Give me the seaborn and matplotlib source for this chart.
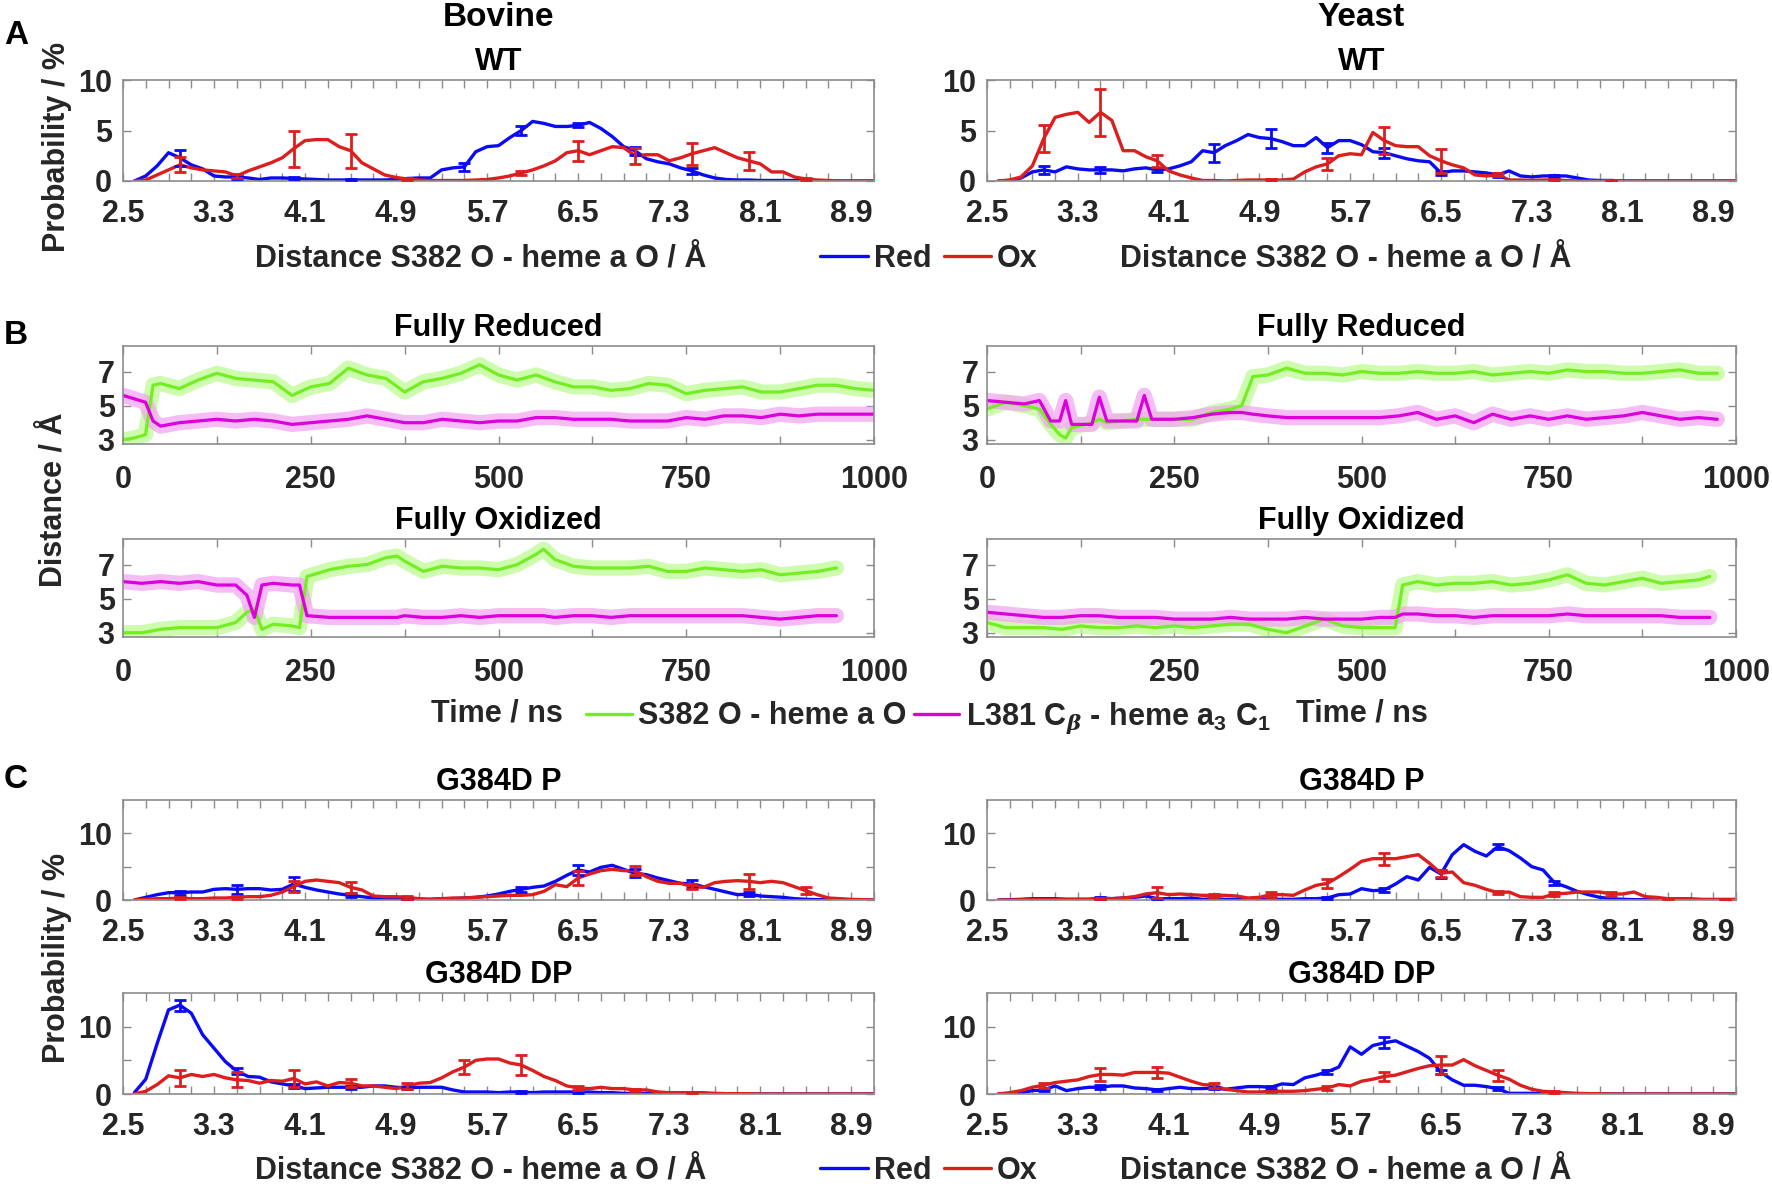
import matplotlib
matplotlib.use("Agg")
import matplotlib.pyplot as plt
import numpy as np
import pandas as pd
import seaborn as sns
from matplotlib.lines import Line2D

# ---------------- data ----------------
dist = [2.6, 2.7, 2.8, 2.9, 3.0, 3.1, 3.2, 3.3, 3.4, 3.5,
        3.6, 3.7, 3.8, 3.9, 4.0, 4.1, 4.2, 4.3, 4.4, 4.5,
        4.6, 4.7, 4.8, 4.9, 5.0, 5.1, 5.2, 5.3, 5.4, 5.5,
        5.6, 5.7, 5.8, 5.9, 6.0, 6.1, 6.2, 6.3, 6.4, 6.5,
        6.6, 6.7, 6.8, 6.9, 7.0, 7.1, 7.2, 7.3, 7.4, 7.5,
        7.6, 7.7, 7.8, 7.9, 8.0, 8.1, 8.2, 8.3, 8.4, 8.5,
        8.6, 8.7, 8.8, 8.9, 9.0, 9.1]
dist_tick_labels = ['2.5', '3.3', '4.1', '4.9', '5.7', '6.5', '7.3', '8.1', '8.9']

# Panel A, Bovine WT
bov_wt_red = [0.0, 0.5, 1.5, 2.8, 2.3, 1.6, 1.2, 0.5, 0.4, 0.4,
              0.3, 0.15, 0.3, 0.3, 0.25, 0.2, 0.15, 0.1, 0.1, 0.1,
              0.1, 0.1, 0.1, 0.15, 0.25, 0.3, 0.3, 1.1, 1.3, 1.4,
              2.9, 3.4, 3.5, 4.3, 5.0, 5.9, 5.7, 5.4, 5.4, 5.5,
              5.8, 5.2, 4.4, 3.4, 3.0, 2.2, 1.9, 1.7, 1.3, 1.0,
              0.6, 0.3, 0.15, 0.1, 0.1, 0.05, 0.05, 0.05, 0.05, 0.05,
              0.0, 0.0, 0.0, 0.0, 0.0, 0.0]
bov_wt_ox = [0.0, 0.1, 0.6, 1.1, 1.6, 1.3, 1.1, 1.0, 0.9, 0.5,
             1.0, 1.4, 1.8, 2.3, 3.2, 4.0, 4.1, 4.1, 3.4, 3.0,
             1.8, 1.2, 0.6, 0.35, 0.2, 0.1, 0.05, 0.05, 0.05, 0.05,
             0.1, 0.15, 0.3, 0.5, 0.8, 1.1, 1.5, 2.0, 2.8, 3.0,
             2.6, 3.0, 3.4, 3.3, 2.5, 2.6, 2.6, 2.0, 2.3, 2.7,
             3.0, 3.3, 2.8, 2.3, 2.0, 1.7, 0.9, 0.9, 0.4, 0.2,
             0.1, 0.05, 0.0, 0.0, 0.0, 0.0]
bov_wt_red_err = {3.0: 0.8, 3.5: 0.2, 4.0: 0.1, 4.5: 0.05, 5.5: 0.4, 6.0: 0.4, 6.5: 0.2, 7.0: 0.4, 7.5: 0.3}
bov_wt_ox_err = {3.0: 0.75, 3.5: 0.2, 4.0: 1.8, 4.5: 1.7, 5.0: 0.1, 6.0: 0.2, 6.5: 1.0, 7.0: 0.8, 7.5: 1.1, 8.0: 0.9, 8.5: 0.1}

# Panel A, Yeast WT
yst_wt_red = [0.0, 0.05, 0.3, 0.9, 1.1, 0.9, 1.4, 1.2, 1.1, 1.1,
              1.1, 1.0, 1.2, 1.3, 1.1, 1.2, 1.5, 1.9, 3.0, 2.8,
              3.5, 4.0, 4.6, 4.3, 4.2, 3.9, 3.5, 3.5, 4.3, 3.3,
              4.0, 4.0, 3.6, 2.9, 2.8, 2.5, 2.2, 2.0, 1.9, 0.8,
              1.0, 1.0, 0.9, 0.8, 0.6, 1.0, 0.5, 0.4, 0.5, 0.5,
              0.5, 0.3, 0.1, 0.05, 0.05, 0.0, 0.0, 0.0, 0.0, 0.0,
              0.0, 0.0, 0.0, 0.0, 0.0, 0.0]
yst_wt_ox = [0.0, 0.1, 0.4, 1.5, 4.2, 6.3, 6.6, 6.8, 5.8, 6.8,
             6.0, 3.0, 3.0, 2.4, 2.0, 1.0, 0.6, 0.3, 0.05, 0.05,
             0.0, 0.05, 0.1, 0.1, 0.1, 0.1, 0.2, 0.9, 1.4, 1.7,
             2.5, 2.7, 2.6, 4.8, 4.0, 3.5, 3.4, 3.4, 2.5, 2.0,
             1.6, 1.3, 0.6, 0.5, 0.6, 0.1, 0.1, 0.05, 0.1, 0.1,
             0.05, 0.0, 0.0, 0.0, 0.05, 0.0, 0.0, 0.0, 0.0, 0.0,
             0.0, 0.0, 0.0, 0.0, 0.0, 0.0]
yst_wt_red_err = {3.0: 0.4, 3.5: 0.3, 4.0: 0.2, 4.5: 0.9, 5.0: 0.9, 5.5: 0.5, 6.0: 0.5, 6.5: 0.2, 7.0: 0.2, 7.5: 0.1}
yst_wt_ox_err = {3.0: 1.3, 3.5: 2.3, 4.0: 0.6, 5.0: 0.1, 5.5: 0.6, 6.0: 1.3, 6.5: 1.2, 7.0: 0.15, 7.5: 0.1, 8.0: 0.05}

# Panel C, Bovine G384D P / DP
bov_p_red = [0.0, 0.4, 0.8, 1.1, 1.1, 1.2, 1.2, 1.6, 1.7, 1.6,
             1.7, 1.7, 1.5, 1.6, 2.4, 1.9, 1.5, 1.2, 0.9, 0.7,
             0.5, 0.3, 0.2, 0.2, 0.2, 0.1, 0.1, 0.2, 0.2, 0.3,
             0.4, 0.6, 0.9, 1.3, 1.6, 1.9, 2.1, 2.8, 3.7, 4.5,
             4.2, 4.9, 5.2, 4.6, 4.0, 3.8, 3.3, 2.9, 2.5, 2.4,
             2.0, 1.6, 1.2, 0.8, 0.9, 0.6, 0.5, 0.4, 0.2, 0.1,
             0.05, 0.05, 0.0, 0.0, 0.0, 0.0]
bov_p_ox = [0.0, 0.1, 0.2, 0.2, 0.3, 0.2, 0.2, 0.3, 0.3, 0.4,
            0.5, 0.5, 0.7, 1.2, 2.0, 2.8, 3.0, 2.8, 2.6, 1.9,
            1.5, 0.6, 0.5, 0.5, 0.4, 0.2, 0.1, 0.2, 0.3, 0.3,
            0.4, 0.5, 0.6, 0.7, 0.7, 0.8, 1.3, 2.3, 2.0, 3.3,
            3.9, 4.4, 4.6, 4.4, 4.4, 3.5, 2.8, 2.5, 2.5, 2.0,
            1.9, 2.6, 2.8, 2.9, 2.8, 2.6, 2.8, 2.6, 2.0, 1.4,
            0.8, 0.3, 0.2, 0.1, 0.05, 0.0]
bov_p_red_err = {3.0: 0.3, 3.5: 0.7, 4.0: 1.1, 4.5: 0.3, 5.0: 0.1, 6.0: 0.4, 6.5: 0.8, 7.0: 0.6, 7.5: 0.6, 8.0: 0.3}
bov_p_ox_err = {3.0: 0.1, 3.5: 0.2, 4.0: 0.8, 4.5: 0.8, 5.0: 0.2, 6.5: 1.0, 7.0: 0.7, 7.5: 0.4, 8.0: 1.1, 8.5: 0.5}

bov_dp_red = [0.2, 2.2, 7.5, 12.5, 13.2, 12.0, 8.8, 6.8, 4.8, 3.4,
              2.6, 2.5, 1.8, 1.5, 1.2, 0.8, 0.9, 1.0, 1.0, 1.0,
              1.0, 1.2, 1.2, 1.0, 0.9, 1.0, 1.0, 1.0, 0.6, 0.3,
              0.3, 0.3, 0.2, 0.3, 0.3, 0.2, 0.3, 0.3, 0.3, 0.3,
              0.3, 0.2, 0.2, 0.1, 0.1, 0.05, 0.05, 0.05, 0.05, 0.05,
              0.0, 0.0, 0.0, 0.0, 0.0, 0.0, 0.0, 0.0, 0.0, 0.0,
              0.0, 0.0, 0.0, 0.0, 0.0, 0.0]
bov_dp_ox = [0.0, 0.4, 1.4, 2.7, 2.4, 2.9, 2.6, 2.9, 2.4, 2.1,
             2.0, 1.6, 2.0, 1.9, 2.3, 1.5, 1.8, 1.2, 1.7, 1.6,
             1.2, 1.2, 1.0, 0.8, 1.2, 1.6, 1.7, 2.4, 3.3, 4.0,
             5.0, 5.2, 5.2, 4.6, 4.3, 3.5, 2.6, 2.0, 1.2, 0.9,
             0.8, 1.0, 0.8, 0.8, 0.6, 0.6, 0.3, 0.2, 0.2, 0.2,
             0.2, 0.1, 0.05, 0.05, 0.05, 0.0, 0.0, 0.0, 0.0, 0.0,
             0.0, 0.0, 0.0, 0.0, 0.0, 0.0]
bov_dp_red_err = {3.0: 0.8, 3.5: 0.4, 4.0: 0.3, 4.5: 0.2, 5.0: 0.2, 6.0: 0.1, 6.5: 0.1}
bov_dp_ox_err = {3.0: 1.2, 3.5: 1.1, 4.0: 1.2, 4.5: 0.6, 5.0: 0.4, 5.5: 1.1, 6.0: 1.5, 6.5: 0.3, 7.0: 0.2, 7.5: 0.1}

# Panel C, Yeast G384D P / DP
yst_p_red = [0.0, 0.05, 0.1, 0.2, 0.2, 0.2, 0.1, 0.1, 0.1, 0.3,
             0.2, 0.3, 0.4, 0.6, 0.2, 0.2, 0.2, 0.3, 0.1, 0.2,
             0.1, 0.1, 0.1, 0.1, 0.1, 0.1, 0.1, 0.2, 0.2, 0.3,
             0.8, 0.9, 1.7, 1.4, 1.5, 2.4, 3.5, 3.0, 4.9, 3.9,
             6.8, 8.3, 7.3, 6.6, 8.0, 7.4, 6.3, 5.0, 4.5, 2.6,
             2.0, 1.3, 0.8, 0.4, 0.2, 0.1, 0.05, 0.05, 0.0, 0.0,
             0.0, 0.0, 0.0, 0.0, 0.0, 0.0]
yst_p_ox = [0.0, 0.0, 0.05, 0.1, 0.1, 0.1, 0.1, 0.1, 0.1, 0.2,
            0.2, 0.3, 0.5, 0.9, 1.1, 0.8, 0.9, 0.8, 0.7, 0.7,
            0.7, 0.6, 0.3, 0.4, 0.8, 0.8, 0.7, 1.5, 2.2, 2.5,
            3.5, 4.6, 5.8, 6.2, 6.2, 6.2, 6.5, 6.8, 5.5, 4.0,
            4.2, 2.6, 2.2, 1.6, 1.1, 1.2, 0.5, 0.4, 0.4, 0.9,
            1.0, 1.2, 1.2, 1.2, 0.9, 0.9, 1.2, 0.5, 0.4, 0.2,
            0.2, 0.2, 0.1, 0.1, 0.1, 0.1]
yst_p_red_err = {3.5: 0.1, 4.0: 0.1, 5.5: 0.1, 6.0: 0.3, 6.5: 0.6, 7.0: 0.4, 7.5: 0.3}
yst_p_ox_err = {3.5: 0.1, 4.0: 0.8, 4.5: 0.2, 5.0: 0.4, 5.5: 0.7, 6.0: 0.9, 6.5: 0.5, 7.0: 0.2, 7.5: 0.3, 8.0: 0.3, 8.5: 0.1, 9.0: 0.1}

yst_dp_red = [0.0, 0.05, 0.2, 0.5, 0.6, 1.2, 0.5, 0.8, 1.0, 1.0,
              1.2, 1.2, 0.9, 0.8, 0.6, 0.8, 1.0, 0.8, 0.8, 0.9,
              0.7, 0.9, 1.1, 1.1, 1.0, 1.5, 1.4, 2.4, 2.8, 3.3,
              4.0, 7.0, 5.9, 7.2, 7.6, 7.9, 7.1, 6.3, 5.3, 3.2,
              2.1, 1.3, 1.3, 1.1, 0.8, 0.1, 0.1, 0.1, 0.05, 0.05,
              0.0, 0.0, 0.0, 0.0, 0.0, 0.0, 0.0, 0.0, 0.0, 0.0,
              0.0, 0.0, 0.0, 0.0, 0.0, 0.0]
yst_dp_ox = [0.0, 0.2, 0.5, 1.0, 1.3, 1.7, 1.9, 2.1, 2.6, 2.9,
             2.9, 2.8, 3.2, 3.2, 3.2, 3.1, 2.5, 1.9, 1.4, 1.3,
             0.7, 0.5, 0.3, 0.3, 0.4, 0.4, 0.4, 0.5, 0.7, 0.9,
             1.4, 1.2, 1.9, 2.2, 2.6, 2.8, 3.3, 3.8, 4.2, 4.3,
             4.3, 5.1, 4.2, 3.5, 2.8, 2.2, 1.3, 0.7, 0.4, 0.3,
             0.2, 0.1, 0.05, 0.05, 0.0, 0.0, 0.0, 0.0, 0.0, 0.0,
             0.0, 0.0, 0.0, 0.0, 0.0, 0.0]
yst_dp_red_err = {3.0: 0.2, 3.5: 0.3, 4.0: 0.2, 4.5: 0.2, 5.0: 0.2, 5.5: 0.3, 6.0: 0.8, 6.5: 0.3, 7.0: 0.2}
yst_dp_ox_err = {3.0: 0.4, 3.5: 0.9, 4.0: 0.8, 4.5: 0.4, 5.0: 0.1, 5.5: 0.3, 6.0: 0.6, 6.5: 1.4, 7.0: 0.8, 7.5: 0.1}

# Panel B, time series (ns, Angstrom)
time_tick_labels = ['0', '250', '500', '750', '1000']

t_bov_red = [0, 15, 30, 40, 50, 75, 100, 125, 150, 175, 200, 225, 250, 275, 300, 325, 350, 375,
             400, 425, 450, 475, 500, 525, 550, 575, 600, 625, 650, 675, 700, 725, 750, 775,
             800, 825, 850, 875, 900, 925, 950, 975, 1000]
s382_bov_red = [3.0, 3.1, 3.3, 6.2, 6.3, 6.0, 6.5, 6.9, 6.6, 6.5, 6.4, 5.6, 6.1, 6.3, 7.2, 6.8, 6.6, 5.8,
                6.4, 6.6, 6.9, 7.4, 6.8, 6.5, 6.8, 6.4, 6.1, 6.1, 5.9, 6.0, 6.3, 6.2, 5.7, 5.9,
                6.0, 6.1, 5.8, 5.8, 6.0, 6.2, 6.2, 6.0, 5.9]
l381_bov_red = [5.6, 5.4, 5.2, 4.1, 3.8, 4.0, 4.1, 4.2, 4.1, 4.2, 4.1, 3.9, 4.0, 4.1, 4.2, 4.4, 4.2, 4.0,
                4.0, 4.2, 4.1, 4.0, 4.1, 4.1, 4.3, 4.3, 4.2, 4.2, 4.2, 4.1, 4.1, 4.1, 4.3, 4.2,
                4.4, 4.4, 4.3, 4.5, 4.4, 4.5, 4.5, 4.5, 4.5]

t_bov_ox = [0, 25, 50, 75, 100, 125, 150, 165, 175, 185, 200, 225, 235, 245, 275, 300, 325, 350, 365, 375,
            400, 425, 450, 475, 500, 525, 550, 560, 575, 600, 625, 650, 675, 700, 725, 750, 775,
            800, 825, 850, 875, 900, 925, 950]
s382_bov_ox = [3.0, 3.0, 3.2, 3.3, 3.3, 3.3, 3.6, 4.2, 4.4, 3.2, 3.5, 3.4, 3.3, 6.3, 6.7, 6.9, 7.0, 7.4, 7.5, 7.2,
               6.6, 6.9, 6.8, 6.8, 6.7, 7.0, 7.6, 7.9, 7.3, 6.9, 6.8, 6.8, 6.8, 6.9, 6.6, 6.6, 6.8,
               6.7, 6.6, 6.7, 6.4, 6.5, 6.6, 6.8]
l381_bov_ox = [6.0, 5.9, 6.0, 5.9, 6.0, 5.8, 5.8, 5.2, 3.9, 5.8, 5.9, 5.8, 5.8, 4.0, 3.9, 3.9, 3.9, 3.9, 3.9, 4.0,
               3.9, 3.9, 4.0, 3.9, 4.0, 4.0, 4.0, 4.0, 3.9, 4.0, 4.0, 3.9, 4.0, 4.0, 4.0, 4.0, 4.0,
               4.0, 4.0, 3.9, 3.8, 3.9, 4.0, 4.0]

t_yst_red = [0, 25, 50, 70, 85, 97, 105, 113, 140, 150, 160, 200, 210, 220,
             250, 275, 300, 325, 340, 355,
             375, 400, 425, 450, 475, 500, 525, 550, 575, 600, 625, 650, 675, 700, 725, 750,
             775, 800, 825, 850, 875, 900, 925, 950, 975]
s382_yst_red = [4.8, 5.2, 5.0, 4.8, 3.9, 3.3, 3.1, 3.7, 4.0, 4.2, 4.0, 4.2, 4.2, 4.2,
                4.2, 4.2, 4.6, 4.8, 5.0, 6.7,
                6.8, 7.2, 6.9, 6.9, 6.8, 7.0, 6.9, 6.9, 7.0, 6.9, 6.9, 7.0, 6.8, 6.9, 7.0, 6.9,
                7.1, 7.0, 7.0, 6.9, 6.9, 7.0, 7.1, 6.9, 6.9]
l381_yst_red = [5.3, 5.2, 5.1, 5.3, 4.1, 4.1, 5.3, 3.9, 3.9, 5.5, 4.1, 4.1, 5.6, 4.2,
                4.2, 4.3, 4.5, 4.6, 4.6, 4.5,
                4.4, 4.3, 4.3, 4.3, 4.3, 4.3, 4.3, 4.4, 4.6, 4.2, 4.4, 4.0, 4.5, 4.2, 4.4, 4.2,
                4.4, 4.2, 4.3, 4.4, 4.6, 4.4, 4.2, 4.3, 4.2]

t_yst_ox = [0, 25, 50, 75, 100, 125, 150, 175, 200, 225, 250, 275, 300, 325, 350, 375, 400, 425,
            450, 475, 500, 525, 545, 555, 575, 600, 625, 650, 675, 700, 725, 750, 775, 800,
            825, 850, 875, 900, 925, 950, 965]
s382_yst_ox = [3.6, 3.3, 3.3, 3.3, 3.2, 3.4, 3.3, 3.3, 3.4, 3.3, 3.4, 3.3, 3.4, 3.5, 3.5, 3.2, 3.0, 3.4,
               3.8, 3.4, 3.3, 3.3, 3.3, 5.8, 6.0, 5.8, 5.9, 5.9, 6.0, 5.8, 5.9, 6.1, 6.4, 5.9,
               5.8, 6.0, 6.2, 5.9, 6.0, 6.1, 6.3]
l381_yst_ox = [4.2, 4.1, 4.0, 3.9, 3.9, 4.0, 4.0, 3.9, 3.9, 3.9, 3.8, 3.8, 3.8, 3.9, 3.8, 3.8, 3.8, 3.9,
               3.8, 3.8, 3.8, 3.9, 3.9, 4.1, 4.1, 4.0, 4.0, 3.9, 4.0, 4.0, 4.0, 4.0, 4.1, 4.0,
               4.0, 4.0, 4.0, 4.0, 3.9, 3.9, 3.9]

# ---------------- style ----------------
sns.set_theme(style="white")
plt.rcParams['font.family'] = ['Liberation Sans', 'DejaVu Sans']
plt.rcParams['font.weight'] = 'bold'
plt.rcParams['axes.labelweight'] = 'bold'
plt.rcParams['axes.titleweight'] = 'bold'
plt.rcParams['mathtext.fontset'] = 'custom'
plt.rcParams['mathtext.rm'] = 'Liberation Sans:bold'
plt.rcParams['mathtext.bf'] = 'Liberation Sans:bold'
plt.rcParams['mathtext.it'] = 'DejaVu Serif:italic'

BLUE = '#0a0af5'
RED = '#dc1e1e'
GREEN = '#74ee22'
GREEN_L = '#bdfb94'
MAG = '#dc00dc'
MAG_L = '#f3a6f3'
TICKC = '#262626'
SPINEC = '#8c8c8c'
FS = 22

W, H = 1772, 1188
fig = plt.figure(figsize=(W / 100, H / 100), dpi=100)
fig.patch.set_facecolor('white')


def add_ax(x0, x1, y0, y1):
    return fig.add_axes([x0 / W, 1 - y1 / H, (x1 - x0) / W, (y1 - y0) / H])


def frame(ax, xpad, ypad):
    ax.tick_params(which='both', direction='in', top=True, right=True, bottom=True, left=True,
                   length=6, width=1, color=SPINEC, labelsize=FS, labelcolor=TICKC)
    ax.tick_params(axis='x', which='both', pad=xpad)
    ax.tick_params(axis='y', which='both', pad=ypad)
    for s in ax.spines.values():
        s.set_visible(True)
        s.set_color(SPINEC)
        s.set_linewidth(1.2)
    ax.set_xlabel('')
    ax.set_ylabel('')
    ax.set_facecolor('white')


def dist_panel(ax, red, ox, red_err, ox_err, ymax, ylabels, title):
    df = pd.DataFrame({'d': dist, 'Red': red, 'Ox': ox})
    sns.lineplot(data=df, x='d', y='Red', ax=ax, color=BLUE, lw=2.4, legend=False)
    sns.lineplot(data=df, x='d', y='Ox', ax=ax, color=RED, lw=2.4, legend=False)
    for errs, vals, c in ((red_err, red, BLUE), (ox_err, ox, RED)):
        xs = list(errs.keys())
        ys = [vals[dist.index(x)] for x in xs]
        ax.errorbar(xs, ys, yerr=list(errs.values()), fmt='none', ecolor=c,
                    elinewidth=2.0, capsize=4.5, capthick=2.0, zorder=5)
    ax.set_xlim(2.5, 9.1)
    ax.set_ylim(0, ymax)
    major = [float(v) for v in dist_tick_labels]
    ax.set_xticks(major)
    ax.set_xticklabels(dist_tick_labels)
    minor = [round(2.5 + 0.2 * k, 1) for k in range(34)]
    ax.set_xticks([m for m in minor if m not in major], minor=True)
    ax.set_yticks([0, 5, 10])
    ax.set_yticklabels(ylabels)
    ax.set_title(title, fontsize=FS, pad=7, color='black')
    frame(ax, 13, 8)


def time_panel(ax, t, s382, l381, title):
    df = pd.DataFrame({'t': t, 's': s382, 'l': l381})
    sns.lineplot(data=df, x='t', y='s', ax=ax, color=GREEN_L, lw=11, alpha=0.75, legend=False)
    sns.lineplot(data=df, x='t', y='l', ax=ax, color=MAG_L, lw=11, alpha=0.75, legend=False)
    sns.lineplot(data=df, x='t', y='s', ax=ax, color=GREEN, lw=2.3, legend=False)
    sns.lineplot(data=df, x='t', y='l', ax=ax, color=MAG, lw=2.3, legend=False)
    ax.set_xlim(0, 1000)
    ax.set_ylim(2.75, 8.5)
    ax.set_xticks([float(v) for v in time_tick_labels])
    ax.set_xticklabels(time_tick_labels)
    ax.set_xticks([125, 375, 625, 875], minor=True)
    ax.set_yticks([3, 5, 7])
    ax.set_yticklabels(['3', '5', '7'])
    ax.set_title(title, fontsize=FS, pad=7, color='black')
    frame(ax, 15, 6)


LX0, LX1, RX0, RX1 = 123, 874, 987, 1736

# Panel A
axA1 = add_ax(LX0, LX1, 80, 181)
dist_panel(axA1, bov_wt_red, bov_wt_ox, bov_wt_red_err, bov_wt_ox_err, 10, ['0', '5', '10'], 'WT')
axA2 = add_ax(RX0, RX1, 80, 181)
dist_panel(axA2, yst_wt_red, yst_wt_ox, yst_wt_red_err, yst_wt_ox_err, 10, ['0', '5', '10'], 'WT')

# Panel B
axB1 = add_ax(LX0, LX1, 346, 444)
time_panel(axB1, t_bov_red, s382_bov_red, l381_bov_red, 'Fully Reduced')
axB2 = add_ax(RX0, RX1, 346, 444)
time_panel(axB2, t_yst_red, s382_yst_red, l381_yst_red, 'Fully Reduced')
axB3 = add_ax(LX0, LX1, 539, 637)
time_panel(axB3, t_bov_ox, s382_bov_ox, l381_bov_ox, 'Fully Oxidized')
axB4 = add_ax(RX0, RX1, 539, 637)
time_panel(axB4, t_yst_ox, s382_yst_ox, l381_yst_ox, 'Fully Oxidized')

# Panel C
axC1 = add_ax(LX0, LX1, 800, 900)
dist_panel(axC1, bov_p_red, bov_p_ox, bov_p_red_err, bov_p_ox_err, 15, ['0', '', '10'], 'G384D P')
axC2 = add_ax(RX0, RX1, 800, 900)
dist_panel(axC2, yst_p_red, yst_p_ox, yst_p_red_err, yst_p_ox_err, 15, ['0', '', '10'], 'G384D P')
axC3 = add_ax(LX0, LX1, 993, 1094)
dist_panel(axC3, bov_dp_red, bov_dp_ox, bov_dp_red_err, bov_dp_ox_err, 15, ['0', '', '10'], 'G384D DP')
axC4 = add_ax(RX0, RX1, 993, 1094)
dist_panel(axC4, yst_dp_red, yst_dp_ox, yst_dp_red_err, yst_dp_ox_err, 15, ['0', '', '10'], 'G384D DP')

# ---------------- texts ----------------
def ftext(x, y, s, **kw):
    kw.setdefault('fontsize', FS)
    kw.setdefault('ha', 'center')
    kw.setdefault('va', 'center')
    kw.setdefault('color', 'black')
    kw.setdefault('fontweight', 'bold')
    return fig.text(x / W, 1 - y / H, s, **kw)

ftext(16, 36, 'A', fontsize=24)
ftext(16, 336, 'B', fontsize=24)
ftext(16, 779, 'C', fontsize=24)
ftext((LX0 + LX1) / 2, 17, 'Bovine', fontsize=24)
ftext((RX0 + RX1) / 2, 17, 'Yeast', fontsize=24)

ftext(57, 147, 'Probability / %', rotation=90, color=TICKC)
ftext(55, 500, 'Distance / Å', rotation=90, color=TICKC)
ftext(57, 958, 'Probability / %', rotation=90, color=TICKC)

xl = 'Distance S382 O - heme a O / Å'
ftext(481, 259, xl, color=TICKC)
ftext(1346, 259, xl, color=TICKC)
ftext(481, 1171, xl, color=TICKC)
ftext(1346, 1171, xl, color=TICKC)
ftext(497, 714, 'Time / ns', color=TICKC)
ftext(1362, 714, 'Time / ns', color=TICKC)

rox_handles = [Line2D([], [], color=BLUE, lw=2.4), Line2D([], [], color=RED, lw=2.4)]
for yy in (259, 1171):
    fig.legend(handles=rox_handles, labels=['Red', 'Ox'], loc='center',
               bbox_to_anchor=(929 / W, 1 - yy / H), ncol=2, frameon=False, fontsize=FS,
               handlelength=1.55, handletextpad=0.2, columnspacing=0.4, borderpad=0,
               borderaxespad=0, labelcolor=TICKC)

b_handles = [Line2D([], [], color=GREEN, lw=2.4), Line2D([], [], color=MAG, lw=2.4)]
fig.legend(handles=b_handles,
           labels=['S382 O - heme a O', r'L381 C$_{\beta}$ - heme a$_{\mathrm{3}}$ C$_{\mathrm{1}}$'],
           loc='center', bbox_to_anchor=(928 / W, 1 - 718 / H), ncol=2, frameon=False, fontsize=FS,
           handlelength=1.5, handletextpad=0.2, columnspacing=0.25, borderpad=0,
           borderaxespad=0, labelcolor=TICKC)

fig.savefig('out.png', dpi=100, facecolor='white')
